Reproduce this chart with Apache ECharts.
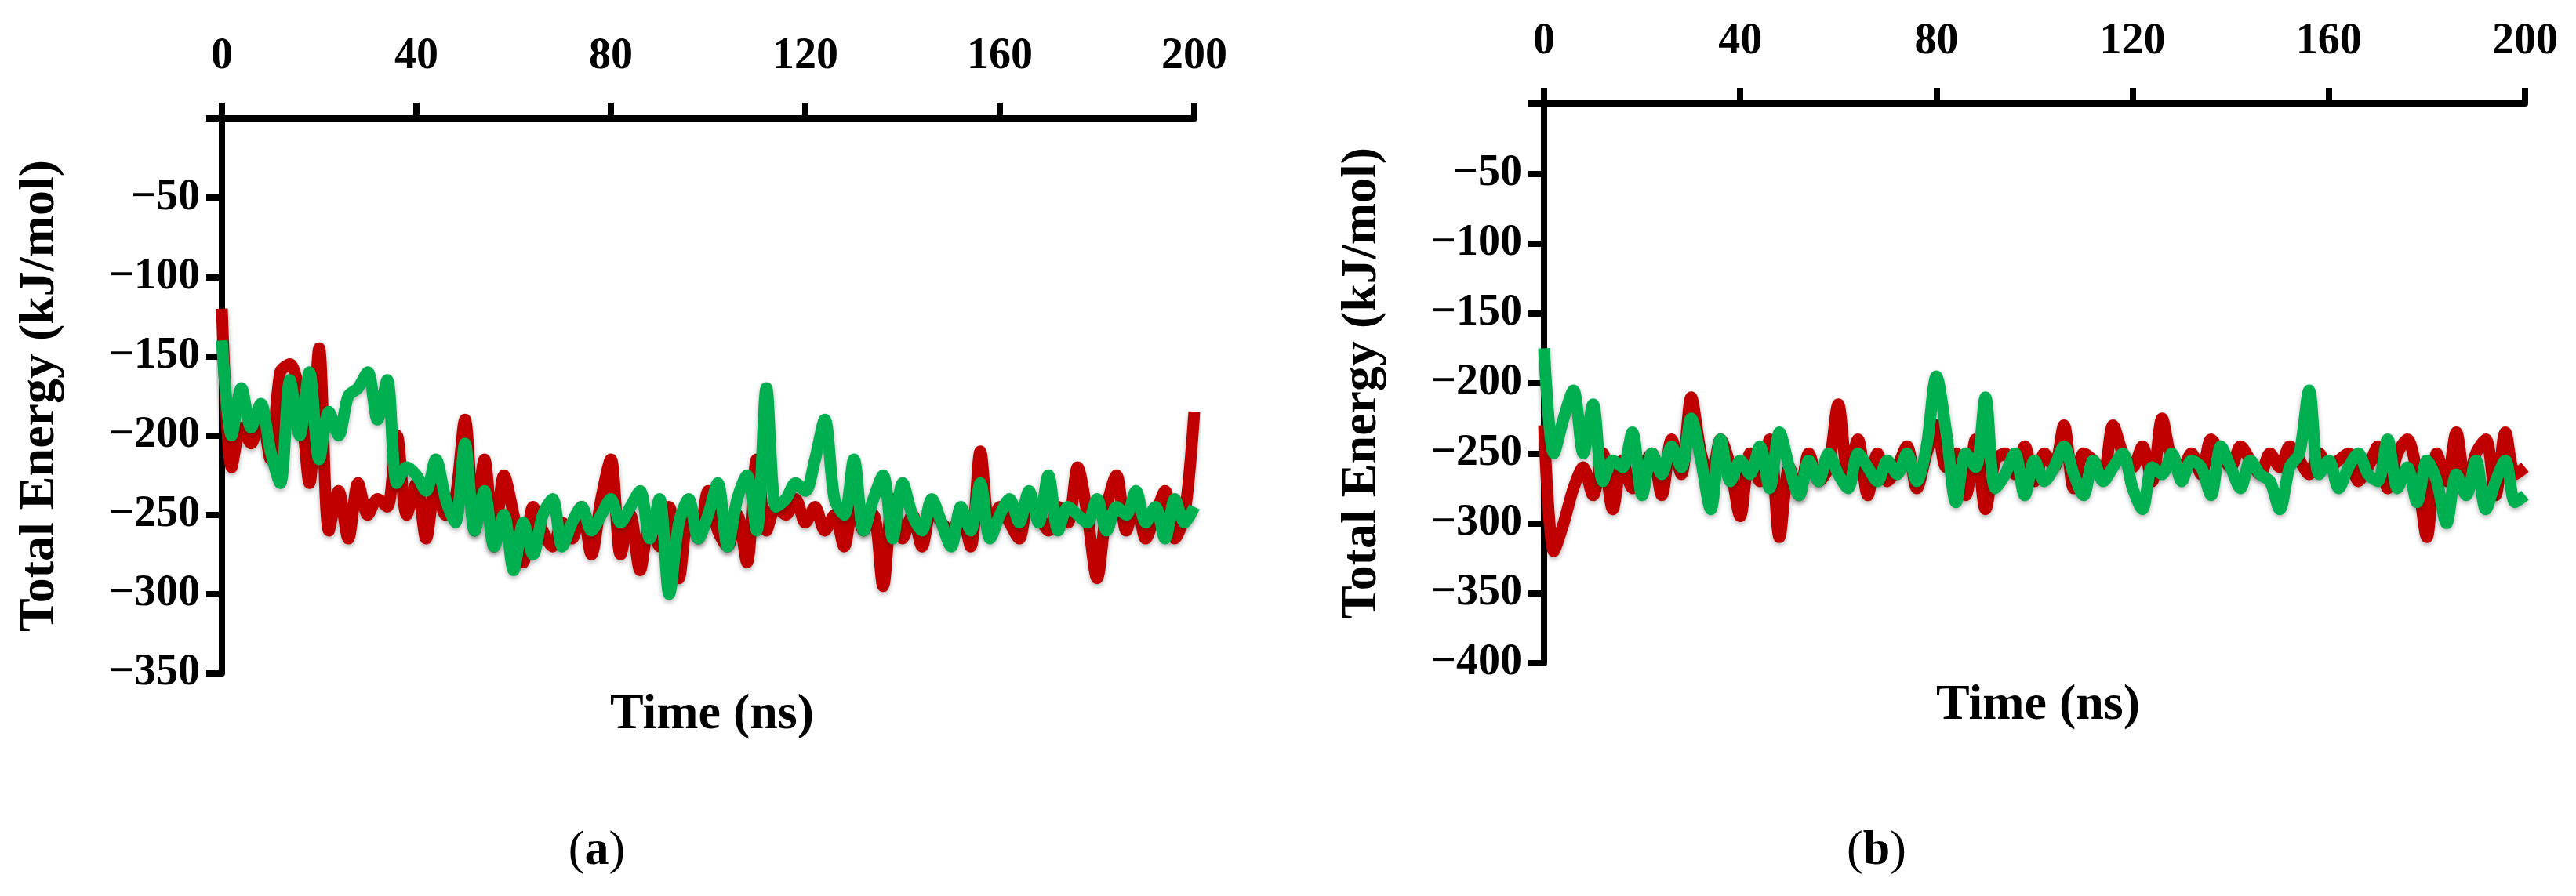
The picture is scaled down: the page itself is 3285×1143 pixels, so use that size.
<!DOCTYPE html>
<html>
<head>
<meta charset="utf-8">
<script src="https://cdn.jsdelivr.net/npm/echarts@6/dist/echarts.min.js"></script>
<style>html,body{margin:0;padding:0;background:#fff}#main{width:3285px;height:1143px}</style>
</head>
<body>
<div id="main"></div>
<script>
// time axis, 0..200 ns every 2 ns
var times = [];
for (var t = 0; t <= 200; t += 2) times.push(t);

var redA = [-120,-220,-195,-205,-185,-215,-160,-155,-175,-230,-145,-260,-235,-265,-230,-250,-240,-245,-200,-250,
  -230,-265,-230,-250,-240,-190,-260,-215,-270,-225,-250,-280,-245,-260,-270,-255,-265,-245,-275,-240,
  -215,-275,-250,-285,-255,-270,-245,-290,-250,-265,-235,-260,-270,-250,-280,-215,-260,-245,-250,-240,
  -255,-245,-260,-250,-270,-240,-260,-250,-295,-240,-265,-250,-270,-245,-255,-260,-250,-270,-210,-260,
  -245,-255,-265,-240,-250,-260,-245,-255,-220,-250,-290,-245,-225,-260,-240,-265,-250,-235,-265,-250,-185];
var greenA = [-140,-200,-170,-195,-180,-210,-230,-165,-200,-160,-215,-185,-200,-175,-170,-160,-190,-165,-230,-220,
  -225,-235,-215,-240,-255,-205,-260,-235,-270,-250,-285,-255,-275,-250,-240,-270,-255,-245,-260,-250,
  -240,-255,-245,-235,-265,-240,-300,-255,-240,-265,-250,-230,-270,-240,-225,-260,-170,-245,-240,-230,
  -235,-215,-190,-240,-250,-215,-260,-240,-225,-265,-230,-250,-260,-240,-255,-270,-245,-260,-230,-265,
  -250,-240,-255,-235,-255,-225,-260,-245,-250,-255,-240,-260,-245,-250,-235,-255,-245,-265,-240,-255,-245];
var redB = [-230,-320,-300,-275,-260,-280,-250,-290,-255,-275,-260,-250,-280,-240,-265,-210,-250,-270,-240,-260,
  -295,-250,-270,-240,-310,-260,-280,-250,-270,-260,-215,-265,-240,-280,-250,-270,-260,-245,-275,-250,
  -230,-260,-250,-280,-240,-290,-255,-250,-265,-245,-270,-250,-260,-230,-275,-250,-255,-265,-230,-250,
  -260,-245,-270,-225,-255,-260,-250,-265,-240,-250,-260,-245,-255,-265,-250,-260,-245,-255,-265,-250,
  -260,-255,-250,-270,-260,-245,-275,-250,-240,-265,-310,-250,-270,-235,-275,-250,-240,-280,-235,-265,-260];
var greenB = [-175,-250,-225,-205,-250,-215,-270,-255,-260,-235,-280,-250,-265,-245,-260,-225,-255,-290,-240,-270,
  -255,-265,-245,-275,-235,-260,-280,-255,-270,-250,-265,-275,-250,-260,-270,-255,-265,-250,-270,-245,
  -195,-235,-285,-250,-260,-210,-275,-265,-250,-280,-255,-270,-260,-245,-265,-280,-255,-270,-260,-250,
  -275,-290,-260,-265,-250,-270,-255,-260,-280,-245,-260,-275,-255,-265,-270,-290,-260,-250,-205,-265,
  -255,-275,-260,-250,-265,-270,-240,-275,-260,-285,-255,-270,-300,-265,-280,-255,-290,-270,-255,-285,-280];

var font = '"Liberation Serif", "Times New Roman", serif';
function pairs(ys) { return times.map(function (t, i) { return [t, ys[i]]; }); }
function line(ys, color, idx) {
  return {
    type: 'line', xAxisIndex: idx, yAxisIndex: idx, data: pairs(ys), symbol: 'none', smooth: 0.3,
    lineStyle: { color: color, width: 15, shadowColor: 'rgba(0,0,0,0.3)', shadowBlur: 6, shadowOffsetY: 3 }
  };
}
var axisLine = { show: true, onZero: false, lineStyle: { color: '#000', width: 8 } };
var tick = { show: true, length: 20, lineStyle: { color: '#000', width: 8 } };
var lab = { color: '#000', fontFamily: font, fontWeight: 'bold', fontSize: 56 };
var titleStyle = { color: '#000', fontFamily: font, fontWeight: 'bold', fontSize: 64 };
function xAx(idx) {
  return { gridIndex: idx, type: 'value', position: 'top', min: 0, max: 200, interval: 40,
    axisLine: axisLine, axisTick: tick, splitLine: { show: false },
    axisLabel: Object.assign({ margin: 50 }, lab) };
}
function yAx(idx, min) {
  return { gridIndex: idx, type: 'value', min: min, max: 0, interval: 50,
    axisLine: axisLine, axisTick: tick, splitLine: { show: false },
    name: 'Total Energy (kJ/mol)', nameLocation: 'middle', nameRotate: 90, nameGap: 200,
    nameTextStyle: titleStyle,
    axisLabel: Object.assign({ margin: 28, formatter: function (v) { return v === 0 ? '' : '\u2212' + Math.abs(v); } }, lab) };
}
var chart = echarts.init(document.getElementById('main'));
chart.setOption({
  backgroundColor: '#fff',
  animation: false,
  grid: [
    { left: 283, top: 151, width: 1240, height: 708 },
    { left: 1969, top: 132, width: 1251, height: 714 }
  ],
  xAxis: [xAx(0), xAx(1)],
  yAxis: [yAx(0, -350), yAx(1, -400)],
  title: [
    { text: 'Time (ns)', left: 903, top: 875, textAlign: 'center', textStyle: titleStyle },
    { text: 'Time (ns)', left: 2594, top: 863, textAlign: 'center', textStyle: titleStyle },
    { text: '({b|a})', left: 756, top: 1050, textAlign: 'center', textStyle: { color: '#000', fontFamily: font, fontWeight: 'normal', fontSize: 62, rich: { b: { fontFamily: font, fontWeight: 'bold', fontSize: 62, color: '#000' } } } },
    { text: '({b|b})', left: 2388, top: 1050, textAlign: 'center', textStyle: { color: '#000', fontFamily: font, fontWeight: 'normal', fontSize: 62, rich: { b: { fontFamily: font, fontWeight: 'bold', fontSize: 62, color: '#000' } } } }
  ],
  series: [
    line(redA, '#c00000', 0), line(greenA, '#00b050', 0),
    line(redB, '#c00000', 1), line(greenB, '#00b050', 1)
  ]
});
</script>
</body>
</html>
